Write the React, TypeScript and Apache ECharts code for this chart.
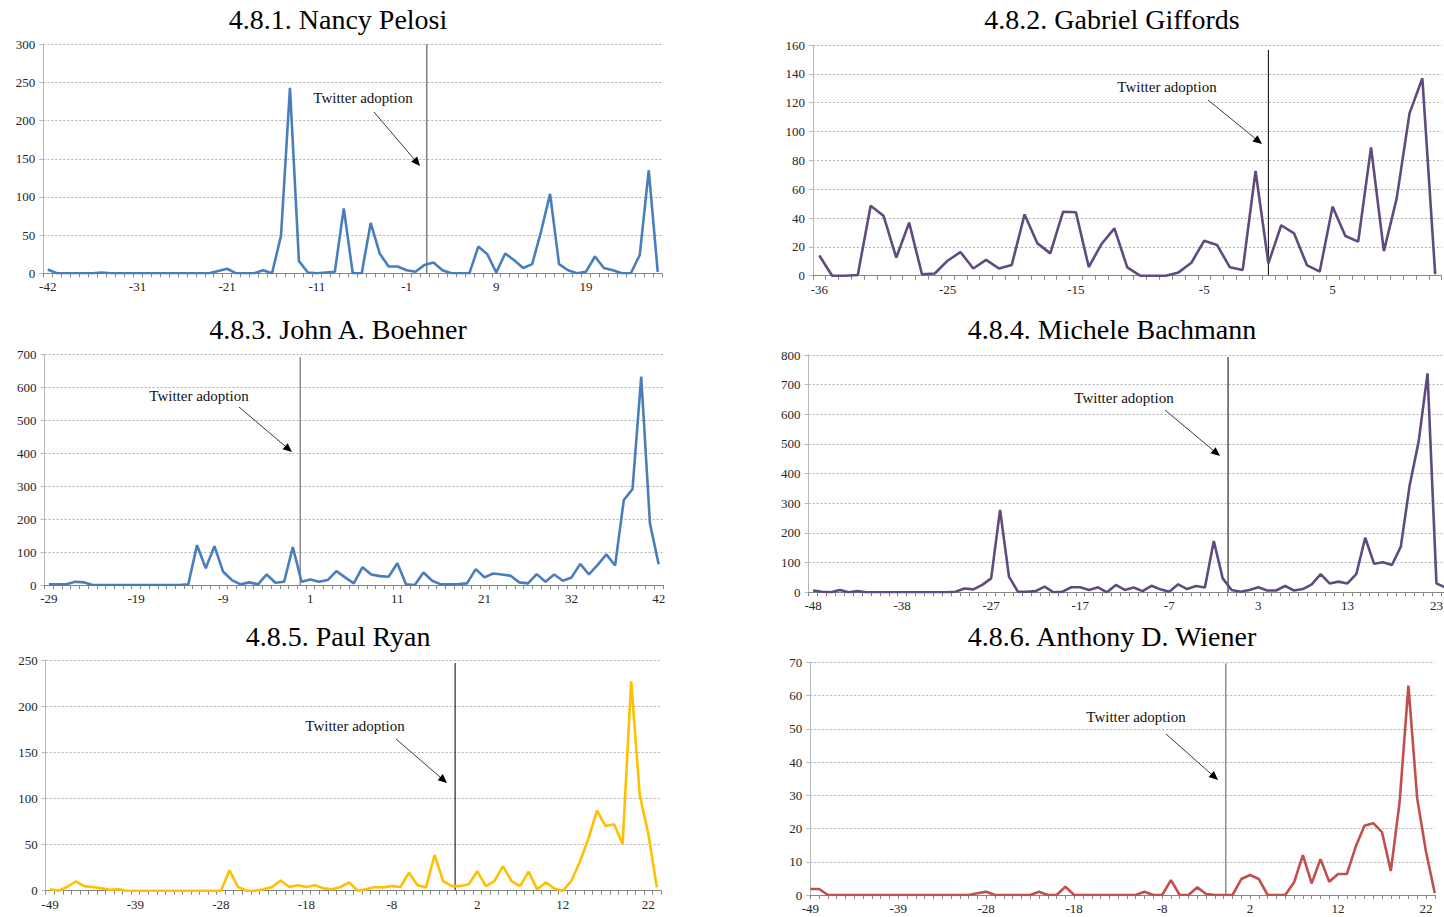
import React, { useEffect, useRef } from "react";
import * as echarts from "echarts";

// ---------- data ----------
const pelosiTicks = ["-42", "-31", "-21", "-11", "-1", "9", "19"];
const pelosiValues = [5, 0, 0, 0, 0, 0, 1, 0, 0, 0, 0, 0, 0, 0, 0, 0, 0, 0, 0, 3, 6, 0, 0, 0, 4, 0, 49, 243, 16, 1, 0, 1, 2, 85, 0, 0, 66, 26, 9, 9, 4, 2, 11, 14, 4, 0, 0, 0, 35, 25, 1, 26, 17, 7, 12, 55, 104, 12, 4, 0, 2, 22, 7, 4, 0, 0, 24, 135, 2];
const pelosiAdoption = 42.25;

const giffordsTicks = ["-36", "-25", "-15", "-5", "5"];
const giffordsValues = [14, 0, 0, 0.5, 48.5, 41.6, 12.5, 36.8, 1, 1.5, 10.4, 16.4, 5, 11, 5, 7.5, 42.5, 22.4, 15.5, 44.4, 44, 6, 22, 32.8, 5.8, 0, 0, 0, 2.3, 9, 24.3, 21.3, 5.8, 4, 72.6, 8.6, 35, 29.4, 7.4, 2.8, 47.9, 27.5, 23.6, 89, 17, 53.6, 112.6, 136.9, 1];
const giffordsAdoption = 35;

const boehnerTicks = ["-29", "-19", "-9", "1", "11", "21", "32", "42"];
const boehnerValues = [2, 2, 2, 10, 8, 0, 0, 0, 0, 0, 0, 0, 0, 0, 0, 0, 2, 121, 51, 118, 40, 15, 2, 8, 2, 32, 7, 10, 115, 10, 17, 10, 15, 42, 23, 5, 54, 32, 27, 25, 66, 2, 0, 38, 13, 2, 2, 3, 5, 48, 23, 35, 32, 28, 8, 5, 33, 10, 32, 13, 23, 64, 32, 61, 93, 59, 258, 291, 632, 187, 63];
const boehnerAdoption = 28.85;

const bachmannTicks = ["-48", "-38", "-27", "-17", "-7", "3", "13", "23"];
const bachmannValues = [6, 2, 0, 8, 0, 4, 0, 0, 0, 0, 0, 0, 0, 0, 0, 0, 2, 13, 10, 25, 47, 278, 53, 2, 2, 4, 19, 0, 2, 17, 17, 8, 17, 0, 25, 8, 16, 4, 22, 10, 2, 27, 11, 21, 16, 173, 47, 8, 2, 8, 17, 6, 6, 22, 6, 11, 27, 61, 30, 36, 30, 61, 184, 96, 101, 92, 154, 362, 508, 738, 30, 16];
const bachmannAdoption = 46.6;

const ryanTicks = ["-49", "-39", "-28", "-18", "-8", "2", "12", "22"];
const ryanValues = [1.5, 0, 4, 10, 5, 4, 2.5, 1, 1.5, 0, 0, 0, 0, 0, 0, 0, 0, 0, 0, 0, 0, 22, 4, 0, 0, 1.5, 4, 11, 4, 6, 4, 6, 2.5, 1.5, 4, 9, 0, 1.5, 4, 3.6, 5, 4, 19.5, 6, 3.6, 38.7, 10.5, 5, 5, 7, 21, 5, 10.5, 26.7, 10.5, 5, 20.6, 1.5, 9, 2.5, 0, 10.5, 31.4, 56.7, 86.7, 70, 72, 50.6, 227, 103.7, 62, 3.6];
const ryanAdoption = 47.4;

const wienerTicks = ["-49", "-39", "-28", "-18", "-8", "2", "12", "22"];
const wienerValues = [1.8, 1.8, 0, 0, 0, 0, 0, 0, 0, 0, 0, 0, 0, 0, 0, 0, 0, 0, 0, 0.5, 1, 0, 0, 0, 0, 0, 1, 0, 0, 2.5, 0, 0, 0, 0, 0, 0, 0, 0, 1, 0, 0, 4.5, 0, 0, 2.3, 0.3, 0, 0, 0, 4.8, 6, 4.8, 0, 0, 0, 3.8, 12, 3.5, 10.8, 4, 6.3, 6.3, 14.5, 20.8, 21.6, 18.9, 7.2, 28, 63, 29, 13, 0.5];
const wienerAdoption = 47.23;

const titles = [
  "4.8.1. Nancy Pelosi",
  "4.8.2. Gabriel Giffords",
  "4.8.3. John A. Boehner",
  "4.8.4. Michele Bachmann",
  "4.8.5. Paul Ryan",
  "4.8.6. Anthony D. Wiener",
];
const yMaxes = [300, 160, 700, 800, 250, 70];
const ySteps = [50, 20, 100, 100, 50, 10];
const annotationText = "Twitter adoption";

const panels = [
  { ticks: pelosiTicks, values: pelosiValues, adoption: pelosiAdoption },
  { ticks: giffordsTicks, values: giffordsValues, adoption: giffordsAdoption },
  { ticks: boehnerTicks, values: boehnerValues, adoption: boehnerAdoption },
  { ticks: bachmannTicks, values: bachmannValues, adoption: bachmannAdoption },
  { ticks: ryanTicks, values: ryanValues, adoption: ryanAdoption },
  { ticks: wienerTicks, values: wienerValues, adoption: wienerAdoption },
];

// ---------- layout / style ----------
const FONT = '"Liberation Serif", "Times New Roman", serif';
const layouts = [
  { grid: { left: 43.3, top: 44.3, width: 618.9, height: 229 }, titleX: 338, titleY: 5, color: "#4A7EBB", gap: true, vColor: "#7f7f7f", vWidth: 1.5, vInset: 0, text: [363, 98], arrow: [374, 112, 420, 166] },
  { grid: { left: 812.9, top: 45, width: 628.7, height: 230.7 }, titleX: 1112, titleY: 5, color: "#5F4B7F", gap: true, vColor: "#000000", vWidth: 1, vInset: 5, text: [1167, 87], arrow: [1208, 100, 1262, 144] },
  { grid: { left: 44.6, top: 354.3, width: 618.4, height: 230.7 }, titleX: 338, titleY: 315, color: "#4A7EBB", gap: true, vColor: "#8c8c8c", vWidth: 1.5, vInset: 3, text: [199, 395.5], arrow: [239, 407, 292, 452] },
  { grid: { left: 808.6, top: 355, width: 641.2, height: 237.3 }, titleX: 1112, titleY: 315, color: "#5F4B7F", gap: true, vColor: "#000000", vWidth: 1, vInset: 2, text: [1124, 398], arrow: [1165, 410, 1220, 456] },
  { grid: { left: 45.7, top: 660, width: 615.4, height: 230.7 }, titleX: 338, titleY: 622, color: "#FFC000", gap: true, vColor: "#000000", vWidth: 1, vInset: 3, text: [355, 725.5], arrow: [396, 739, 447, 783] },
  { grid: { left: 810.3, top: 662.3, width: 624.5, height: 232.7 }, titleX: 1112, titleY: 622, color: "#C0504D", gap: false, vColor: "#8c8c8c", vWidth: 1.5, vInset: 1, text: [1136, 716.5], arrow: [1166, 734, 1218, 780] },
];

export default function App() {
  const ref = useRef<HTMLDivElement>(null);

  useEffect(() => {
    if (!ref.current) return;
    const chart = echarts.init(ref.current, undefined, { renderer: "svg" });

    const option: any = {
      animation: false,
      title: titles.map((t, i) => ({
        text: t,
        left: layouts[i].titleX,
        top: layouts[i].titleY,
        textAlign: "center",
        padding: 0,
        textStyle: { fontFamily: FONT, fontSize: 28, fontWeight: "normal", color: "#000" },
      })),
      grid: layouts.map((l) => ({ ...l.grid, containLabel: false })),
      xAxis: panels.map((p, i) => ({
        type: "category",
        gridIndex: i,
        data: p.values.map((_, k) => String(k)),
        boundaryGap: layouts[i].gap,
        axisLine: { show: true, lineStyle: { color: "#868686", width: 1 } },
        axisTick: { show: true, interval: 0, length: 4, lineStyle: { color: "#868686" } },
        axisLabel: {
          interval: 9,
          formatter: (_v: string, idx: number) => (idx % 10 === 0 && p.ticks[idx / 10] !== undefined ? p.ticks[idx / 10] : ""),
          fontFamily: FONT,
          fontSize: 13,
          color: "#262626",
          margin: 7,
        },
        splitLine: { show: false },
      })),
      yAxis: panels.map((_p, i) => ({
        type: "value",
        gridIndex: i,
        min: 0,
        max: yMaxes[i],
        interval: ySteps[i],
        axisLine: { show: true, lineStyle: { color: "#b8b8b8", width: 1 } },
        axisTick: { show: true, length: 4, lineStyle: { color: "#b8b8b8" } },
        axisLabel: { fontFamily: FONT, fontSize: 13, color: "#262626", margin: 8 },
        splitLine: { show: true, lineStyle: { color: "#b0b0b0", type: [2, 2], width: 1 } },
      })),
      series: panels.map((p, i) => ({
        type: "line",
        xAxisIndex: i,
        yAxisIndex: i,
        data: p.values,
        symbol: "none",
        lineStyle: { color: layouts[i].color, width: 2.6 },
        itemStyle: { color: layouts[i].color },
      })),
    };
    chart.setOption(option);

    const graphics: any[] = [];
    panels.forEach((p, i) => {
      const l = layouts[i];
      const lo = Math.floor(p.adoption);
      const hi = Math.ceil(p.adoption);
      const x0 = chart.convertToPixel({ xAxisIndex: i } as any, lo) as unknown as number;
      const x1 = chart.convertToPixel({ xAxisIndex: i } as any, hi) as unknown as number;
      const x = x0 + (p.adoption - lo) * (x1 - x0);
      const yTop = chart.convertToPixel({ yAxisIndex: i } as any, yMaxes[i]) as unknown as number;
      const yBot = chart.convertToPixel({ yAxisIndex: i } as any, 0) as unknown as number;
      graphics.push({
        type: "line",
        silent: true,
        shape: { x1: x, y1: yTop + l.vInset, x2: x, y2: yBot },
        style: { stroke: l.vColor, lineWidth: l.vWidth },
      });
      const [sx, sy, ex, ey] = l.arrow;
      const len = Math.hypot(ex - sx, ey - sy);
      const dx = (ex - sx) / len;
      const dy = (ey - sy) / len;
      const head = 9;
      const hw = 4;
      const bx = ex - dx * head;
      const by = ey - dy * head;
      graphics.push({
        type: "line",
        silent: true,
        shape: { x1: sx, y1: sy, x2: bx + dx * 2, y2: by + dy * 2 },
        style: { stroke: "#3a3a3a", lineWidth: 1 },
      });
      graphics.push({
        type: "polygon",
        silent: true,
        shape: { points: [[ex, ey], [bx - dy * hw, by + dx * hw], [bx + dy * hw, by - dx * hw]] },
        style: { fill: "#000" },
      });
      graphics.push({
        type: "text",
        silent: true,
        x: l.text[0],
        y: l.text[1],
        style: {
          text: annotationText,
          font: `15px ${FONT}`,
          fill: "#111",
          textAlign: "center",
          align: "center",
          textVerticalAlign: "middle",
          verticalAlign: "middle",
        },
      });
    });
    chart.setOption({ graphic: graphics });

    return () => chart.dispose();
  }, []);

  return (
    <div style={{ position: "absolute", left: 0, top: 0, width: 1444, height: 917, overflow: "hidden", background: "#fff" }}>
      <div ref={ref} style={{ position: "absolute", left: 0, top: 0, width: 1470, height: 917 }} />
    </div>
  );
}
